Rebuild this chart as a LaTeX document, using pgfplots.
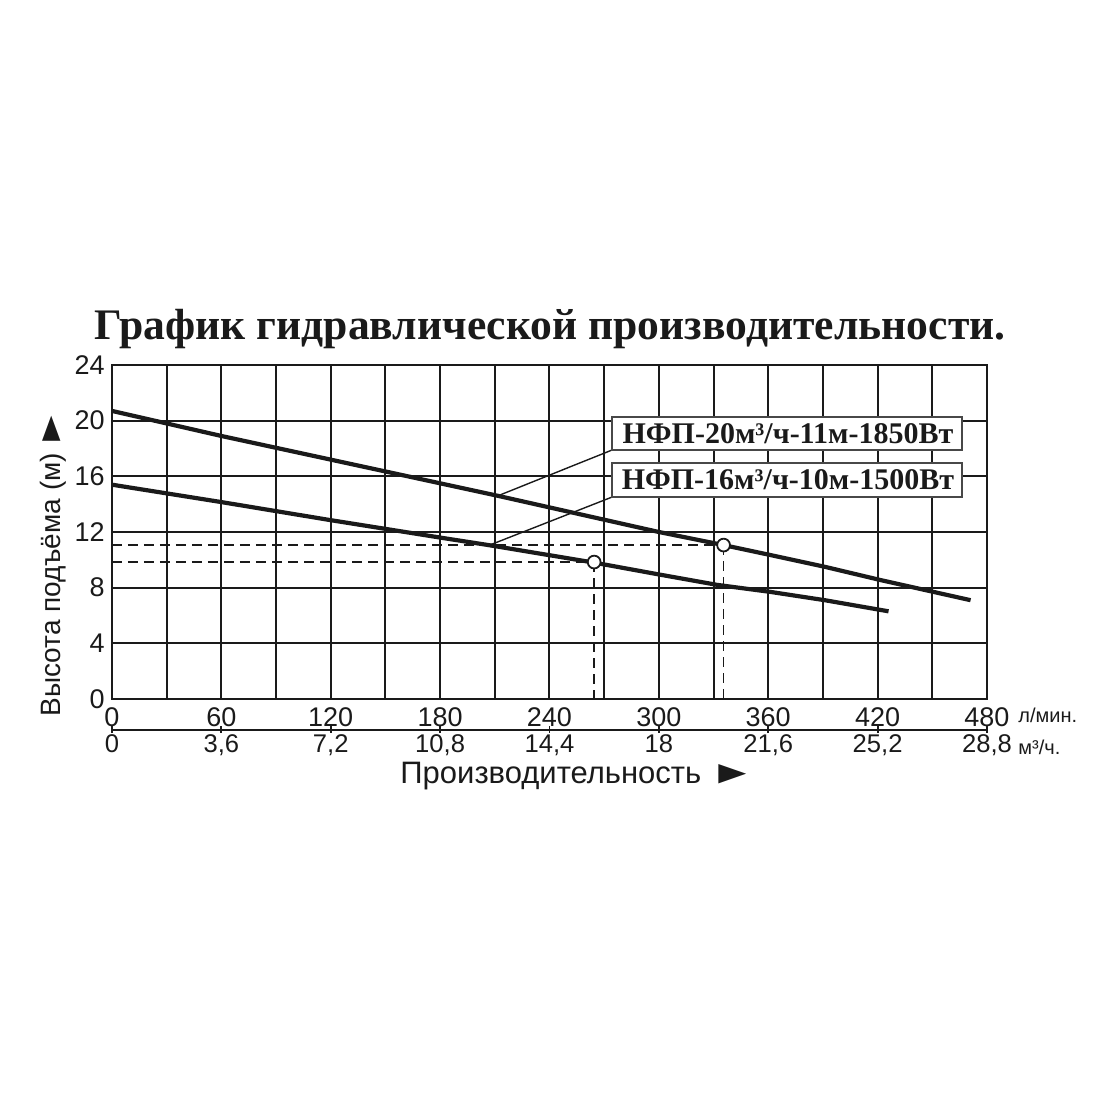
\documentclass[border=0pt]{standalone}
\usepackage{fontspec}
\setmainfont{Liberation Serif}
\newfontfamily\arial{Liberation Sans}
\usepackage{graphicx}
\usepackage{pgfplots}
\pgfplotsset{compat=1.18}
\definecolor{ink}{HTML}{1A1A1A}
\tikzset{sclab/.style={anchor=base, inner sep=0pt, font=\arial\fontsize{12.8}{14}\selectfont, text=ink},
         sctick/.style={ink, line width=0.9pt}}
\begin{document}
\begin{tikzpicture}
\path[use as bounding box] (0,0) rectangle (550pt,550pt);
\begin{axis}[
  at={(56pt,200.5pt)}, anchor=south west,
  width=437.5pt, height=167pt, scale only axis,
  xmin=0, xmax=480, ymin=0, ymax=24,
  clip=false,
  axis line style={ink, line width=1.1pt},
  xtick={0,60,...,480}, minor xtick={30,90,...,450},
  ytick={0,4,...,24},
  grid=both,
  major grid style={ink, line width=1pt},
  minor grid style={ink, line width=1pt},
  major tick length=0pt, minor tick length=0pt,
  tick label style={font=\arial\fontsize{13.5}{14}\selectfont, text=ink},
  /pgf/number format/assume math mode=true,
  xticklabel style={anchor=north, inner sep=0pt, yshift=-4pt},
  yticklabel style={anchor=east, inner sep=0pt, xshift=-3.5pt},
]
% dashed reference lines
\addplot[ink, line width=0.9pt, dash pattern=on 5pt off 3pt] coordinates {(0,11.06) (335.5,11.06)};
\addplot[ink, line width=0.9pt, dash pattern=on 5pt off 3pt] coordinates {(0,9.84) (264.5,9.84)};
\addplot[ink, line width=0.9pt, dash pattern=on 5pt off 3pt] coordinates {(335.5,11.06) (335.5,0)};
\addplot[ink, line width=0.9pt, dash pattern=on 5pt off 3pt] coordinates {(264.5,9.84) (264.5,0)};
% curves
\addplot[ink, line width=2.1pt] coordinates {(0,20.7) (60,18.9) (120,17.2) (150,16.35) (211.7,14.6) (300,12.0) (335.5,11.06) (361,10.35) (391,9.5) (421.5,8.55) (471,7.1)};
\addplot[ink, line width=2.1pt] coordinates {(0,15.4) (60,14.15) (120,12.85) (180,11.6) (207,11.05) (264.5,9.8) (300,8.95) (332,8.2) (361,7.7) (391,7.1) (426,6.3)};
% markers
\addplot[only marks, mark=*, mark size=3.2pt, mark options={fill=white, draw=ink, line width=0.9pt}] coordinates {(335.5,11.06) (264.5,9.84)};
% leaders
\draw[ink, line width=0.7pt] (axis cs:274.3,17.89) -- (axis cs:211.7,14.6);
\draw[ink, line width=0.7pt] (axis cs:274.3,14.51) -- (axis cs:207,11.05);
% label boxes
\draw[draw=ink!80, line width=0.8pt, fill=white] (axis cs:274.3,20.26) rectangle (axis cs:466.3,17.89);
\draw[draw=ink!80, line width=0.8pt, fill=white] (axis cs:274.3,16.96) rectangle (axis cs:466.3,14.51);
\node[font=\bfseries\fontsize{15}{17}\selectfont, text=ink] at (axis cs:370.8,19.07) {НФП-20м³/ч-11м-1850Вт};
\node[font=\bfseries\fontsize{15}{17}\selectfont, text=ink] at (axis cs:370.8,15.73) {НФП-16м³/ч-10м-1500Вт};
% title
\node[font=\bfseries\fontsize{21.8}{24}\selectfont, text=ink] at (axis cs:240.3,26.6) {График гидравлической производительности.};
% y label
\node[font=\arial\fontsize{14}{16}\selectfont, text=ink, rotate=90] at (axis cs:-32.4,9.85) {Высота подъёма (м)\hspace{2pt}\scalebox{1.5}[1.1]{►}};
% secondary scale
\draw[ink, line width=0.9pt] (axis cs:0,-2.23) -- (axis cs:480,-2.23);
\draw[sctick] (axis cs:0,-1.95) -- (axis cs:0,-2.42);
\draw[sctick] (axis cs:60,-1.95) -- (axis cs:60,-2.42);
\draw[sctick] (axis cs:120,-1.95) -- (axis cs:120,-2.42);
\draw[sctick] (axis cs:180,-1.95) -- (axis cs:180,-2.42);
\draw[sctick] (axis cs:240,-1.95) -- (axis cs:240,-2.42);
\draw[sctick] (axis cs:300,-1.95) -- (axis cs:300,-2.42);
\draw[sctick] (axis cs:360,-1.95) -- (axis cs:360,-2.42);
\draw[sctick] (axis cs:420,-1.95) -- (axis cs:420,-2.42);
\draw[sctick] (axis cs:480,-1.95) -- (axis cs:480,-2.42);
\node[sclab] at (axis cs:0,-3.88) {0};
\node[sclab] at (axis cs:60,-3.88) {3,6};
\node[sclab] at (axis cs:120,-3.88) {7,2};
\node[sclab] at (axis cs:180,-3.88) {10,8};
\node[sclab] at (axis cs:240,-3.88) {14,4};
\node[sclab] at (axis cs:300,-3.88) {18};
\node[sclab] at (axis cs:360,-3.88) {21,6};
\node[sclab] at (axis cs:420,-3.88) {25,2};
\node[sclab] at (axis cs:480,-3.88) {28,8};
\node[anchor=base west, inner sep=0pt, font=\arial\fontsize{10}{12}\selectfont, text=ink] at (axis cs:497,-1.72) {л/мин.};
\node[anchor=base west, inner sep=0pt, font=\arial\fontsize{10}{12}\selectfont, text=ink] at (axis cs:497,-4.02) {м³/ч.};
\node[anchor=base west, inner sep=0pt, font=\arial\fontsize{15.5}{17}\selectfont, text=ink] at (axis cs:158,-6.1) {Производительность\hspace{4pt}\scalebox{1.5}[1.05]{►}};
\end{axis}
\end{tikzpicture}
\end{document}
